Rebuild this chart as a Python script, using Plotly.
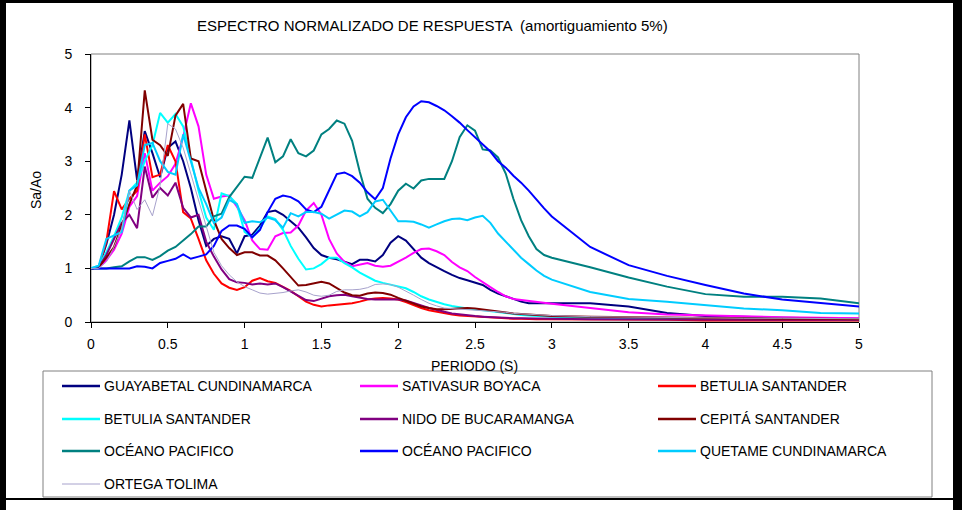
import plotly.graph_objects as go

# ---------------- data ----------------
period = [0.0, 0.05, 0.1, 0.15, 0.2, 0.25, 0.3, 0.35, 0.4, 0.45,
          0.5, 0.55, 0.6, 0.65, 0.7, 0.75, 0.8, 0.85, 0.9, 0.95,
          1.0, 1.05, 1.1, 1.15, 1.2, 1.25, 1.3, 1.35, 1.4, 1.45,
          1.5, 1.55, 1.6, 1.65, 1.7, 1.75, 1.8, 1.85, 1.9, 1.95,
          2.0, 2.05, 2.1, 2.15, 2.2, 2.25, 2.3, 2.35, 2.4, 2.45,
          2.5, 2.55, 2.6, 2.65, 2.7, 2.75, 2.8, 2.85, 2.9, 2.95,
          3.0, 3.25, 3.5, 3.75, 4.0, 4.25, 4.5, 4.75, 5.0]

guayabetal = [1.0, 1.02, 1.45, 2.0, 2.75, 3.76, 2.65, 3.56, 3.15, 2.7,
              3.25, 3.37, 3.0, 2.5, 1.9, 1.42, 1.55, 1.6, 1.55, 1.28,
              1.6, 1.63, 1.8, 2.05, 2.08, 2.0, 1.88, 1.76, 1.58, 1.38,
              1.25, 1.2, 1.17, 1.12, 1.08, 1.16, 1.16, 1.13, 1.25, 1.48,
              1.6, 1.52, 1.35, 1.2, 1.1, 1.02, 0.95, 0.88, 0.82, 0.78,
              0.74, 0.69, 0.6, 0.53, 0.48, 0.43, 0.38, 0.35, 0.35, 0.35,
              0.36, 0.35, 0.29, 0.17, 0.11, 0.09, 0.08, 0.07, 0.06]

sativasur = [1.0, 1.02, 1.15, 1.35, 1.65, 2.15, 2.35, 3.15, 2.45, 2.6,
             2.72, 2.95, 3.45, 4.08, 3.65, 2.75, 2.3, 2.34, 2.36, 2.15,
             1.9, 1.52, 1.36, 1.35, 1.6, 1.66, 1.67, 1.8, 2.08, 2.22,
             2.0, 1.55, 1.28, 1.12, 1.04, 1.07, 1.1, 1.05, 1.03, 1.05,
             1.12, 1.2, 1.29, 1.36, 1.37, 1.32, 1.25, 1.12, 1.02, 0.95,
             0.84, 0.74, 0.65, 0.56, 0.48, 0.43, 0.41, 0.39, 0.37, 0.35,
             0.34, 0.26, 0.18, 0.14, 0.12, 0.11, 0.09, 0.08, 0.07]

betulia_1 = [1.0, 1.02, 1.5, 2.44, 2.1, 2.3, 2.45, 3.5, 2.7, 2.75,
             3.3, 3.0, 2.05, 1.93, 1.55, 1.15, 0.9, 0.72, 0.64, 0.6,
             0.65, 0.77, 0.82, 0.76, 0.73, 0.66, 0.58, 0.48, 0.38, 0.32,
             0.29, 0.31, 0.32, 0.33, 0.35, 0.38, 0.42, 0.44, 0.45, 0.44,
             0.42, 0.37, 0.31, 0.26, 0.22, 0.19, 0.16, 0.14, 0.12, 0.11,
             0.1, 0.09, 0.08, 0.07, 0.07, 0.06, 0.06, 0.05, 0.05, 0.05,
             0.05, 0.04, 0.04, 0.04, 0.03, 0.03, 0.03, 0.03, 0.03]

betulia_2 = [1.0, 1.05, 1.3, 1.6, 1.95, 2.45, 2.6, 3.0, 3.3, 3.9,
             3.72, 3.88, 3.65, 3.05, 2.45, 1.95, 1.72, 2.4, 2.35, 2.2,
             1.68, 1.58, 1.75, 1.97, 1.92, 1.72, 1.42, 1.18, 0.98, 1.0,
             1.08, 1.2, 1.2, 1.1, 1.02, 0.92, 0.84, 0.77, 0.73, 0.7,
             0.66, 0.63, 0.56, 0.48, 0.42, 0.37, 0.33, 0.3, 0.27, 0.25,
             0.24, 0.22, 0.2, 0.18, 0.16, 0.14, 0.13, 0.12, 0.11, 0.1,
             0.1, 0.08, 0.07, 0.07, 0.06, 0.06, 0.06, 0.05, 0.05]

nido = [1.0, 1.02, 1.25, 1.55, 1.85, 2.0, 1.75, 2.9, 2.32, 2.5,
        2.36, 2.6, 2.13, 1.95, 2.0, 1.5, 1.22, 0.98, 0.8, 0.74,
        0.73, 0.7, 0.72, 0.7, 0.72, 0.65, 0.57, 0.48, 0.41, 0.39,
        0.44, 0.48, 0.5, 0.51, 0.48, 0.45, 0.43, 0.42, 0.42, 0.43,
        0.42, 0.4, 0.36, 0.31, 0.26, 0.22, 0.19, 0.16, 0.14, 0.12,
        0.11, 0.1, 0.09, 0.08, 0.08, 0.07, 0.07, 0.07, 0.06, 0.06,
        0.06, 0.05, 0.05, 0.04, 0.04, 0.04, 0.04, 0.04, 0.04]

cepita = [1.0, 1.02, 1.2, 1.4, 1.8, 2.2, 2.55, 4.32, 3.4, 3.3,
          3.1, 3.85, 4.07, 3.05, 3.0, 2.45, 1.9, 1.55, 1.38, 1.25,
          1.3, 1.3, 1.24, 1.24, 1.15, 1.0, 0.85, 0.68, 0.69, 0.72,
          0.75, 0.72, 0.63, 0.55, 0.5, 0.49, 0.53, 0.55, 0.54, 0.51,
          0.45, 0.4, 0.34, 0.29, 0.26, 0.24, 0.24, 0.25, 0.26, 0.26,
          0.25, 0.23, 0.21, 0.19, 0.17, 0.16, 0.15, 0.14, 0.13, 0.12,
          0.11, 0.1, 0.09, 0.08, 0.07, 0.07, 0.06, 0.06, 0.05]

oceano_1 = [1.0, 1.0, 1.0, 1.02, 1.04, 1.13, 1.21, 1.21, 1.16, 1.23,
            1.33, 1.4, 1.52, 1.64, 1.78, 1.78, 1.97, 2.02, 2.33, 2.52,
            2.71, 2.69, 3.08, 3.44, 2.98, 3.09, 3.41, 3.15, 3.09, 3.2,
            3.5, 3.6, 3.76, 3.7, 3.38, 2.8, 2.3, 2.13, 2.03, 2.2,
            2.45, 2.58, 2.49, 2.64, 2.67, 2.67, 2.67, 3.0, 3.45, 3.67,
            3.57, 3.22, 3.2, 3.07, 2.77, 2.3, 1.9, 1.6, 1.36, 1.25,
            1.2, 1.02, 0.83, 0.66, 0.52, 0.47, 0.47, 0.44, 0.35]

oceano_2 = [1.0, 1.0, 1.0, 1.0, 1.0, 1.0, 1.04, 1.03, 1.0, 1.1,
            1.14, 1.18, 1.26, 1.18, 1.22, 1.26, 1.42, 1.7, 1.8, 1.8,
            1.74, 1.58, 1.72, 2.05, 2.3, 2.36, 2.33, 2.25, 2.1, 2.05,
            2.15, 2.47, 2.76, 2.79, 2.72, 2.6, 2.42, 2.29, 2.5, 3.05,
            3.5, 3.82, 4.02, 4.12, 4.1, 4.03, 3.95, 3.84, 3.72, 3.58,
            3.45, 3.32, 3.18, 3.0, 2.88, 2.73, 2.6, 2.45, 2.28, 2.12,
            1.97, 1.4, 1.06, 0.86, 0.69, 0.53, 0.42, 0.35, 0.29]

quetame = [1.0, 1.05, 1.55, 1.62, 1.68, 2.45, 2.55, 3.3, 3.34, 3.0,
           2.8, 2.75, 3.5, 3.0, 2.5, 2.2, 1.85, 1.95, 2.28, 2.2,
           1.85, 1.88, 1.86, 1.95, 1.9, 1.76, 2.03, 1.97, 2.05, 2.05,
           2.02, 1.93, 2.0, 2.08, 2.06, 1.97, 2.05, 2.25, 2.28, 2.08,
           1.88, 1.88, 1.87, 1.82, 1.76, 1.82, 1.88, 1.92, 1.93, 1.9,
           1.95, 1.98, 1.85, 1.65, 1.5, 1.35, 1.2, 1.08, 0.96, 0.86,
           0.79, 0.56, 0.43, 0.38, 0.32, 0.25, 0.22, 0.17, 0.16]

ortega = [1.0, 1.0, 1.12, 1.4, 1.75, 2.45, 2.1, 2.28, 1.98, 2.55,
          3.7, 3.6, 3.25, 2.75, 2.3, 1.75, 1.3, 1.05, 0.88, 0.75,
          0.66, 0.6, 0.54, 0.52, 0.53, 0.55, 0.58, 0.6, 0.56, 0.5,
          0.48, 0.5, 0.57, 0.6, 0.6, 0.61, 0.64, 0.7, 0.71, 0.7,
          0.65, 0.58, 0.5, 0.42, 0.35, 0.3, 0.26, 0.25, 0.24, 0.23,
          0.23, 0.22, 0.21, 0.2, 0.18, 0.16, 0.15, 0.14, 0.13, 0.12,
          0.12, 0.1, 0.09, 0.08, 0.08, 0.07, 0.07, 0.06, 0.06]

series_names = ["GUAYABETAL CUNDINAMARCA", "SATIVASUR BOYACA", "BETULIA SANTANDER",
                "BETULIA SANTANDER", "NIDO DE BUCARAMANGA", "CEPITÁ SANTANDER",
                "OCÉANO PACIFICO", "OCÉANO PACIFICO", "QUETAME CUNDINAMARCA",
                "ORTEGA TOLIMA"]
series_values = [guayabetal, sativasur, betulia_1, betulia_2, nido, cepita,
                 oceano_1, oceano_2, quetame, ortega]
x_ticks = [0, 0.5, 1, 1.5, 2, 2.5, 3, 3.5, 4, 4.5, 5]
y_ticks = [0, 1, 2, 3, 4, 5]

# ---------------- styles ----------------
colors = ["#000080", "#FF00FF", "#FF0000", "#00FFFF", "#800080", "#800000",
          "#008080", "#0000FF", "#00CCFF", "#A7A2CC"]
widths = [2, 2, 2, 2, 2, 2, 2, 2, 2, 1]
FONT = "Liberation Sans, Arial, sans-serif"

W, H = 962, 512
L, R, TOP, BOT = 91, 859, 54, 322


def px(x):
    return (x - L) / (R - L)


def py(y):
    return (BOT - y) / (BOT - TOP)


fig = go.Figure()
for name, vals, col, wd in zip(series_names, series_values, colors, widths):
    fig.add_trace(go.Scatter(x=period, y=vals, mode="lines", name=name,
                             line=dict(color=col, width=wd), showlegend=False,
                             hoverinfo="skip"))

# black page background; a white card drawn on it leaves the dark outer frame
fig.update_layout(
    width=W, height=H,
    margin=dict(l=L, r=W - R, t=TOP, b=H - BOT, pad=0),
    paper_bgcolor="black", plot_bgcolor="white",
    font=dict(family=FONT, size=14, color="black"),
    showlegend=False,
)
fig.update_xaxes(range=[0, 5], tickvals=x_ticks, ticks="outside", ticklen=5,
                 tickcolor="black", showline=True, linecolor="black", linewidth=1,
                 showgrid=False, zeroline=False, ticklabelstandoff=4,
                 tickfont=dict(size=14, color="black"))
fig.update_yaxes(range=[0, 5], tickvals=y_ticks, ticks="outside", ticklen=5,
                 tickcolor="black", showline=True, linecolor="black", linewidth=1,
                 showgrid=False, zeroline=False, ticklabelstandoff=10,
                 tickfont=dict(size=14, color="black"))


def box(xa, ya, xb, yb, fill=None, line_color=None, lw=0, layer="below"):
    d = dict(type="rect", xref="paper", yref="paper", x0=px(xa), x1=px(xb),
             y0=py(yb), y1=py(ya), layer=layer,
             line=dict(width=lw, color=line_color or "rgba(0,0,0,0)"))
    if fill:
        d["fillcolor"] = fill
    return d


def hline(y, xa, xb, w, color="black"):
    return dict(type="line", xref="paper", yref="paper", x0=px(xa), x1=px(xb),
                y0=py(y), y1=py(y), line=dict(color=color, width=w))


shapes = []
# white chart area inside the dark outer frame
shapes.append(box(6, 3, 953, 498, fill="white"))
shapes.append(box(6, 500, 953, 510, fill="white"))
shapes.append(box(0, 510, 962, 512, fill="white"))
# plot frame (grey top/right)
shapes.append(dict(type="rect", xref="paper", yref="paper", x0=0, x1=1, y0=0, y1=1,
                   line=dict(color="#808080", width=1), layer="below"))
# legend box
shapes.append(box(43, 371, 932, 497, line_color="#808080", lw=1, layer="above"))

annotations = []
row_y = [386, 419, 451, 484]
col_x = [62, 360, 658]
for i, (name, col, wd) in enumerate(zip(series_names, colors, widths)):
    r, c = divmod(i, 3)
    x0 = col_x[c]
    shapes.append(hline(row_y[r], x0, x0 + 38, wd + 0.5 if wd > 1 else 1, col))
    annotations.append(dict(text=name, xref="paper", yref="paper", x=px(x0 + 40),
                            y=py(row_y[r]), xanchor="left", yanchor="middle",
                            showarrow=False, font=dict(size=14, family=FONT)))

annotations.append(dict(text="ESPECTRO NORMALIZADO DE RESPUESTA  (amortiguamiento 5%)",
                        xref="paper", yref="paper", x=px(432), y=py(25),
                        xanchor="center", yanchor="middle", showarrow=False,
                        font=dict(size=15, family=FONT)))
annotations.append(dict(text="Sa/Ao", xref="paper", yref="paper", x=px(36), y=py(190),
                        xanchor="center", yanchor="middle", textangle=-90, showarrow=False,
                        font=dict(size=14, family=FONT)))
annotations.append(dict(text="PERIODO (S)", xref="paper", yref="paper", x=px(474), y=py(366),
                        xanchor="center", yanchor="middle", showarrow=False,
                        font=dict(size=14, family=FONT)))

fig.update_layout(shapes=shapes, annotations=annotations)
fig.write_html("out.html", config={"displayModeBar": False},
               post_script="document.body.style.margin='0px';")
